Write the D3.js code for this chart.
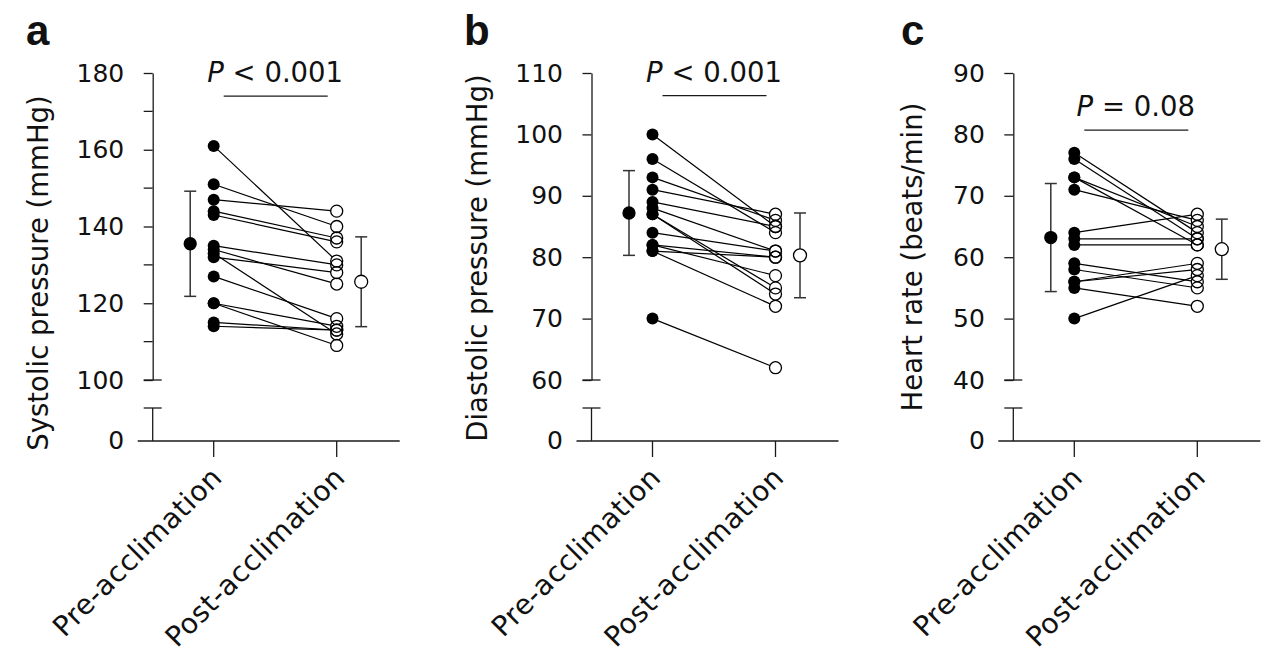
<!DOCTYPE html>
<html><head><meta charset="utf-8">
<script src="https://cdn.jsdelivr.net/npm/d3@7"></script>
<style>
html,body{margin:0;padding:0;background:#fff;}
svg text{font-family:"DejaVu Sans",sans-serif;fill:#111;}
</style></head>
<body>
<svg id="chart" width="1280" height="660"></svg>
<script>
// ---------- data ----------
const categories = ["Pre-acclimation", "Post-acclimation"];
const panelLetters = ["a", "b", "c"];
const yTitles = ["Systolic pressure (mmHg)", "Diastolic pressure (mmHg)", "Heart rate (beats/min)"];
const pSymbols = ["<", "<", "="];
const pValues = ["0.001", "0.001", "0.08"];

const sbpPre  = [161, 151, 147, 144, 143, 135, 134, 133, 132, 127, 120, 120, 115, 114];
const sbpPost = [131, 140, 144, 137, 136, 130, 125, 112, 128, 116, 114, 109, 113, 113];
const dbpPre  = [100, 96, 93, 91, 89, 88, 87, 87, 84, 82, 82, 81, 81, 70];
const dbpPost = [85, 84, 86, 87, 85, 81, 75, 74, 81, 80, 77, 80, 72, 62];
const hrPre   = [77, 76, 73, 73, 71, 64, 63, 62, 59, 58, 56, 56, 55, 50];
const hrPost  = [64, 63, 65, 62, 66, 67, 63, 62, 56, 55, 59, 58, 52, 57];

const meanPre  = [135.5, 87.2, 63.2];
const sdPre    = [13.7, 6.9, 8.8];
const meanPost = [125.6, 80.3, 61.3];
const sdPost   = [11.7, 6.9, 4.9];

const yMin = [100, 60, 40];
const yMax = [180, 110, 90];
const majorTicks = [[100, 120, 140, 160, 180], [60, 70, 80, 90, 100, 110], [40, 50, 60, 70, 80, 90]];
const minorTicks = [[110, 130, 150, 170], [], []];
const bracketValue = [174, 106.3, 80.7];

// ---------- layout ----------
const axisX = [152.7, 591.5, 1013.3];
const letterX = [26, 464, 901];
const titleX = [48, 487, 922];
const titleCY = [273, 258, 257];
const yTop = 73, yBreakUpper = 380, yBreakLower = 408, yZero = 441;

const preData = [sbpPre, dbpPre, hrPre];
const postData = [sbpPost, dbpPost, hrPost];

const svg = d3.select("#chart");
const ink = "#1a1a1a";
const tickFont = 25;

for (let k = 0; k < 3; k++) {
  const ax = axisX[k];
  const g = svg.append("g");
  const y = d3.scaleLinear().domain([yMin[k], yMax[k]]).range([yBreakUpper, yTop]);
  const x = d3.scalePoint().domain(categories).range([ax + 61, ax + 184]);
  const xPre = x(categories[0]), xPost = x(categories[1]);

  // panel letter
  g.append("text").attr("x", letterX[k]).attr("y", 45)
    .attr("font-size", 42).attr("font-weight", "900").style("font-family", "'Liberation Sans', Arial, sans-serif")
    .text(panelLetters[k]);

  // y title
  g.append("text")
    .attr("transform", `translate(${titleX[k]},${titleCY[k]}) rotate(-90)`)
    .attr("text-anchor", "middle").attr("font-size", 27.5)
    .text(yTitles[k]);

  // y axis upper
  const yAxis = d3.axisLeft(y).tickValues(majorTicks[k]).tickSize(9).tickPadding(19.5).tickSizeOuter(0);
  const ya = g.append("g").attr("transform", `translate(${ax},0)`).call(yAxis);
  ya.attr("font-family", null).attr("font-size", null);
  ya.select(".domain").attr("stroke", ink).attr("stroke-width", 1.3);
  ya.selectAll(".tick line").attr("stroke", ink).attr("stroke-width", 1.3);
  ya.selectAll(".tick text").attr("font-size", tickFont).attr("fill", "#111");
  // minor ticks
  g.selectAll(".minor").data(minorTicks[k]).enter().append("line")
    .attr("x1", ax - 9).attr("x2", ax).attr("y1", d => y(d)).attr("y2", d => y(d))
    .attr("stroke", ink).attr("stroke-width", 1.3);
  // break caps
  g.append("line").attr("x1", ax - 9).attr("x2", ax + 9).attr("y1", yBreakUpper).attr("y2", yBreakUpper)
    .attr("stroke", ink).attr("stroke-width", 1.3);
  g.append("line").attr("x1", ax - 9).attr("x2", ax + 9).attr("y1", yBreakLower).attr("y2", yBreakLower)
    .attr("stroke", ink).attr("stroke-width", 1.3);
  g.append("line").attr("x1", ax).attr("x2", ax).attr("y1", yBreakLower).attr("y2", yZero)
    .attr("stroke", ink).attr("stroke-width", 1.3);
  // zero label
  g.append("text").attr("x", ax - 28.5).attr("y", yZero).attr("dy", "0.32em")
    .attr("text-anchor", "end").attr("font-size", tickFont).text("0");

  // x axis
  g.append("line").attr("x1", ax - 15).attr("x2", ax + 247).attr("y1", yZero).attr("y2", yZero)
    .attr("stroke", ink).attr("stroke-width", 1.3);
  g.selectAll(".xt").data(categories).enter().append("line")
    .attr("x1", d => x(d)).attr("x2", d => x(d)).attr("y1", yZero).attr("y2", yZero + 16)
    .attr("stroke", ink).attr("stroke-width", 1.3);
  g.selectAll(".xl").data(categories).enter().append("text")
    .attr("transform", d => `translate(${x(d) + 10},${yZero + 38}) rotate(-45)`)
    .attr("text-anchor", "end").attr("font-size", 28).attr("letter-spacing", 0.6)
    .text(d => d);

  // p-value bracket
  const by = y(bracketValue[k]);
  g.append("line").attr("x1", xPre + 10).attr("x2", xPost - 9).attr("y1", by).attr("y2", by)
    .attr("stroke", ink).attr("stroke-width", 1.3);
  const pt = g.append("text").attr("x", (xPre + xPost) / 2).attr("y", by - 14)
    .attr("text-anchor", "middle").attr("font-size", 27.5);
  pt.append("tspan").attr("font-style", "italic").text("P");
  pt.append("tspan").text(` ${pSymbols[k]} ${pValues[k]}`);

  // paired lines
  const pre = preData[k], post = postData[k];
  const r = 6;
  const pairs = pre.map((v, i) => ({a: v, b: post[i]}));
  g.selectAll(".pair").data(pairs).enter().append("line")
    .attr("x1", xPre).attr("y1", d => y(d.a))
    .attr("x2", d => {
      const dx = xPost - xPre, dy = y(d.b) - y(d.a), L = Math.hypot(dx, dy);
      return xPost - dx / L * r;
    })
    .attr("y2", d => {
      const dx = xPost - xPre, dy = y(d.b) - y(d.a), L = Math.hypot(dx, dy);
      return y(d.b) - dy / L * r;
    })
    .attr("stroke", "#000").attr("stroke-width", 1.2);
  g.selectAll(".pre").data(pre).enter().append("circle")
    .attr("cx", xPre).attr("cy", d => y(d)).attr("r", r).attr("fill", "#000");
  g.selectAll(".post").data(post).enter().append("circle")
    .attr("cx", xPost).attr("cy", d => y(d)).attr("r", r)
    .attr("fill", "none").attr("stroke", "#000").attr("stroke-width", 1.3);

  // mean ± SD
  const mPreX = xPre - 23.5, mPostX = xPost + 24.5;
  const eb = [
    {x: mPreX, m: meanPre[k], s: sdPre[k], filled: true},
    {x: mPostX, m: meanPost[k], s: sdPost[k], filled: false}
  ];
  eb.forEach(e => {
    g.append("line").attr("x1", e.x).attr("x2", e.x).attr("y1", y(e.m + e.s)).attr("y2", y(e.m - e.s))
      .attr("stroke", "#333").attr("stroke-width", 1.5);
    [e.m + e.s, e.m - e.s].forEach(v => {
      g.append("line").attr("x1", e.x - 6).attr("x2", e.x + 6).attr("y1", y(v)).attr("y2", y(v))
        .attr("stroke", "#333").attr("stroke-width", 1.5);
    });
    g.append("circle").attr("cx", e.x).attr("cy", y(e.m)).attr("r", e.filled ? 6 : 6.5)
      .attr("fill", e.filled ? "#000" : "#fff").attr("stroke", "#000").attr("stroke-width", 1.3);
  });
}
</script>
</body></html>
